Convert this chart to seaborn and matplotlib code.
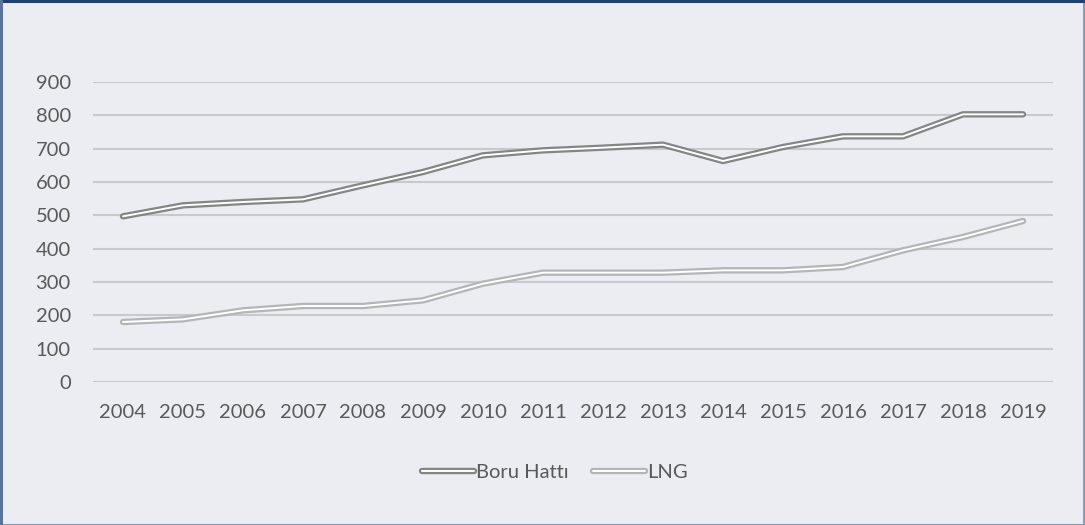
import matplotlib
matplotlib.use("Agg")
import matplotlib.pyplot as plt
import matplotlib.patheffects as pe
from matplotlib.lines import Line2D
from matplotlib.patches import Rectangle
import seaborn as sns
import pandas as pd

years = [str(y) for y in range(2004, 2020)]
boru_hatti = [497, 530, 540, 548, 590, 630, 680, 695, 703, 712, 663, 705, 737, 737, 803, 803]
lng = [180, 188, 215, 228, 228, 245, 295, 328, 328, 328, 335, 335, 345, 395, 435, 483]

df = pd.DataFrame({"yil": years, "Boru Hattı": boru_hatti, "LNG": lng})
df = df.melt(id_vars="yil", var_name="seri", value_name="deger")

bg = "#ECEDF2"
text_col = "#595959"
outer = {"Boru Hattı": "#858585", "LNG": "#B5B5B8"}
fs = 14.5

sns.set_theme(style="white")
plt.rcParams["font.family"] = ["Lato", "DejaVu Sans"]

fig = plt.figure(figsize=(10.85, 5.25), dpi=100, facecolor=bg)
ax = fig.add_axes([93 / 1085, 1 - 382 / 525, 960 / 1085, 300 / 525])
ax.set_facecolor(bg)

for seri in ["Boru Hattı", "LNG"]:
    sub = df[df["seri"] == seri]
    sns.lineplot(data=sub, x="yil", y="deger", ax=ax, color="white", lw=1.4,
                 sort=False, zorder=3,
                 path_effects=[pe.Stroke(linewidth=4.6, foreground=outer[seri]), pe.Normal()])

ax.set_xlim(-0.5, 15.5)
ax.set_ylim(0, 900)
ax.set_yticks(range(0, 901, 100))
ax.yaxis.grid(True, color="#C9C9CD", lw=1.5)
ax.set_axisbelow(True)
for s in ax.spines.values():
    s.set_visible(False)
ax.tick_params(axis="y", length=0, pad=16, labelsize=fs, labelcolor=text_col)
ax.tick_params(axis="x", length=0, pad=16, labelsize=fs, labelcolor=text_col)
ax.set_xlabel("")
ax.set_ylabel("")

handles = []
for seri in ["Boru Hattı", "LNG"]:
    h = Line2D([], [], color="white", lw=1.4,
               path_effects=[pe.Stroke(linewidth=4.6, foreground=outer[seri]), pe.Normal()])
    handles.append(h)
leg = fig.legend(handles, ["Boru Hattı", "LNG"], loc="center", bbox_to_anchor=(555 / 1085, 1 - 472 / 525),
                 ncol=2, frameon=False, fontsize=fs, handlelength=2.6, handletextpad=0.1,
                 columnspacing=1.2)
for t in leg.get_texts():
    t.set_color(text_col)

# chart border
fig.patches.append(Rectangle((0.5 / 1085, 0.5 / 525), 1083 / 1085, 523 / 525, transform=fig.transFigure,
                             fill=False, edgecolor="#8A9DB8", lw=1.5))
fig.patches.append(Rectangle((0, 1 - 3 / 525), 1, 3 / 525, transform=fig.transFigure,
                             facecolor="#1F3F6E", edgecolor="none"))
fig.patches.append(Rectangle((0, 0), 3 / 1085, 1, transform=fig.transFigure,
                             facecolor="#5C739A", edgecolor="none"))

fig.savefig("out.png", dpi=100, facecolor=bg)
